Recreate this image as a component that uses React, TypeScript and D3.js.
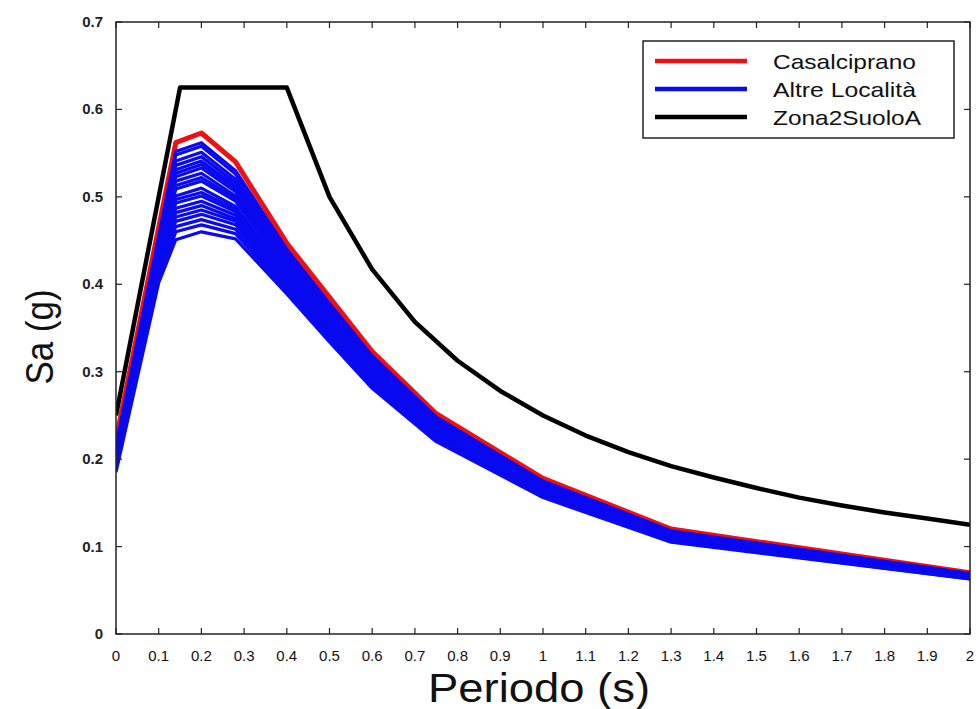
import React from 'react';
import * as d3 from 'd3';

// Periods (s) sampled for the site spectra
const periods = [0, 0.1, 0.14, 0.2, 0.28, 0.4, 0.5, 0.6, 0.75, 1.0, 1.3, 2.0];

// Casalciprano spectrum (g)
const casalciprano = [0.222, 0.465, 0.562, 0.573, 0.540, 0.447, 0.385, 0.323, 0.252, 0.178, 0.120, 0.070];

// Altre Località spectra (g)
const altreLocalita = [
  [0.215, 0.455, 0.552, 0.562, 0.530, 0.440, 0.378, 0.318, 0.248, 0.175, 0.118, 0.069],
  [0.213, 0.452, 0.548, 0.558, 0.526, 0.437, 0.376, 0.316, 0.247, 0.174, 0.117, 0.069],
  [0.211, 0.448, 0.541, 0.551, 0.520, 0.434, 0.374, 0.314, 0.245, 0.173, 0.116, 0.068],
  [0.210, 0.446, 0.536, 0.546, 0.516, 0.431, 0.371, 0.312, 0.243, 0.172, 0.116, 0.068],
  [0.208, 0.442, 0.531, 0.541, 0.512, 0.428, 0.369, 0.310, 0.242, 0.171, 0.115, 0.068],
  [0.207, 0.440, 0.527, 0.537, 0.509, 0.426, 0.367, 0.308, 0.240, 0.170, 0.114, 0.067],
  [0.206, 0.438, 0.523, 0.533, 0.506, 0.424, 0.365, 0.306, 0.239, 0.169, 0.114, 0.067],
  [0.204, 0.436, 0.518, 0.527, 0.501, 0.421, 0.362, 0.304, 0.237, 0.168, 0.113, 0.067],
  [0.203, 0.434, 0.513, 0.522, 0.498, 0.418, 0.360, 0.303, 0.236, 0.167, 0.112, 0.066],
  [0.202, 0.432, 0.509, 0.518, 0.495, 0.416, 0.358, 0.301, 0.235, 0.166, 0.112, 0.066],
  [0.200, 0.428, 0.501, 0.510, 0.489, 0.412, 0.355, 0.298, 0.232, 0.165, 0.111, 0.066],
  [0.198, 0.426, 0.497, 0.505, 0.486, 0.410, 0.353, 0.297, 0.231, 0.164, 0.110, 0.066],
  [0.197, 0.424, 0.493, 0.501, 0.483, 0.408, 0.351, 0.295, 0.230, 0.163, 0.110, 0.065],
  [0.196, 0.422, 0.487, 0.495, 0.479, 0.405, 0.349, 0.293, 0.229, 0.162, 0.109, 0.065],
  [0.194, 0.419, 0.482, 0.490, 0.475, 0.402, 0.346, 0.291, 0.227, 0.161, 0.108, 0.065],
  [0.193, 0.416, 0.477, 0.485, 0.472, 0.400, 0.344, 0.289, 0.226, 0.160, 0.108, 0.064],
  [0.191, 0.414, 0.472, 0.480, 0.468, 0.398, 0.342, 0.287, 0.225, 0.160, 0.107, 0.064],
  [0.190, 0.411, 0.466, 0.474, 0.463, 0.395, 0.339, 0.285, 0.223, 0.159, 0.106, 0.064],
  [0.188, 0.407, 0.460, 0.468, 0.458, 0.392, 0.337, 0.283, 0.221, 0.158, 0.106, 0.063],
  [0.185, 0.402, 0.451, 0.460, 0.452, 0.389, 0.334, 0.281, 0.220, 0.156, 0.105, 0.063],
];

// Zona2SuoloA code spectrum
const zonaPeriods = [0, 0.15, 0.4, 0.5, 0.6, 0.7, 0.8, 0.9, 1.0, 1.1, 1.2, 1.3, 1.4, 1.5, 1.6, 1.7, 1.8, 1.9, 2.0];
const zonaValues = [0.25, 0.625, 0.625, 0.5, 0.417, 0.357, 0.3125, 0.278, 0.25, 0.227, 0.208, 0.192, 0.179, 0.167, 0.156, 0.147, 0.139, 0.132, 0.125];

const xTicks = [0, 0.1, 0.2, 0.3, 0.4, 0.5, 0.6, 0.7, 0.8, 0.9, 1, 1.1, 1.2, 1.3, 1.4, 1.5, 1.6, 1.7, 1.8, 1.9, 2];
const yTicks = [0, 0.1, 0.2, 0.3, 0.4, 0.5, 0.6, 0.7];

const legendLabels = ['Casalciprano', 'Altre Località', 'Zona2SuoloA'];
const legendColors = ['#ee1111', '#0a0af0', '#000000'];

const FONT = '"Liberation Sans", Arial, Helvetica, sans-serif';

export default function App() {
  const W = 980, H = 709;
  const left = 116, right = 970, top = 22, bottom = 634;
  const x = d3.scaleLinear().domain([0, 2]).range([left, right]);
  const y = d3.scaleLinear().domain([0, 0.7]).range([bottom, top]);

  const line = d3.line<[number, number]>().x(d => x(d[0])).y(d => y(d[1]));
  const series = (vals: number[], ts: number[]) => line(ts.map((t, i) => [t, vals[i]] as [number, number])) || '';

  const tickLen = 6;
  const fmt = (v: number) => String(v);

  return (
    <svg width={W} height={H} style={{ position: 'absolute', left: 0, top: 0, background: '#fff' }} fontFamily={FONT}>
      <rect x={0} y={0} width={W} height={H} fill="#fff" />
      <defs>
        <clipPath id="plot">
          <rect x={left} y={top} width={right - left} height={bottom - top} />
        </clipPath>
      </defs>
      <g clipPath="url(#plot)" fill="none" strokeLinejoin="round">
        <path d={series(casalciprano, periods)} stroke={legendColors[0]} strokeWidth={5} />
        {altreLocalita.map((vals, i) => (
          <path key={i} d={series(vals, periods)} stroke={legendColors[1]} strokeWidth={3.2} />
        ))}
        <path d={series(zonaValues, zonaPeriods)} stroke={legendColors[2]} strokeWidth={4.5} />
      </g>

      {/* frame */}
      <rect x={left} y={top} width={right - left} height={bottom - top} fill="none" stroke="#222" strokeWidth={1.5} />

      {/* x ticks */}
      {xTicks.map(t => (
        <g key={'x' + t}>
          <line x1={x(t)} x2={x(t)} y1={bottom} y2={bottom - tickLen} stroke="#222" strokeWidth={1.2} />
          <line x1={x(t)} x2={x(t)} y1={top} y2={top + tickLen} stroke="#222" strokeWidth={1.2} />
          <text x={x(t)} y={661} textAnchor="middle" fontSize={15} fill="#111">{fmt(t)}</text>
        </g>
      ))}

      {/* y ticks */}
      {yTicks.map(t => (
        <g key={'y' + t}>
          <line x1={left} x2={left + tickLen} y1={y(t)} y2={y(t)} stroke="#222" strokeWidth={1.2} />
          <line x1={right} x2={right - tickLen} y1={y(t)} y2={y(t)} stroke="#222" strokeWidth={1.2} />
          <text x={103} y={y(t) + 5} textAnchor="end" fontSize={15} fontWeight="bold" fill="#222">{fmt(t)}</text>
        </g>
      ))}

      {/* axis titles */}
      <text x={539} y={702} textAnchor="middle" fontSize={40} fill="#111" textLength={222} lengthAdjust="spacingAndGlyphs">Periodo (s)</text>
      <text transform={`translate(53,337) rotate(-90)`} textAnchor="middle" fontSize={38} fill="#111" textLength={95} lengthAdjust="spacingAndGlyphs">Sa (g)</text>

      {/* legend */}
      <rect x={643} y={41} width={311} height={97} fill="#fff" stroke="#222" strokeWidth={1.5} />
      {legendLabels.map((lab, i) => {
        const ly = 61 + i * 28;
        const lens = [143, 143, 148];
        return (
          <g key={lab}>
            <line x1={655} x2={747} y1={ly} y2={ly} stroke={legendColors[i]} strokeWidth={4.5} />
            <text x={773} y={ly + 8} fontSize={21} fill="#111" textLength={lens[i]} lengthAdjust="spacingAndGlyphs">{lab}</text>
          </g>
        );
      })}
    </svg>
  );
}
